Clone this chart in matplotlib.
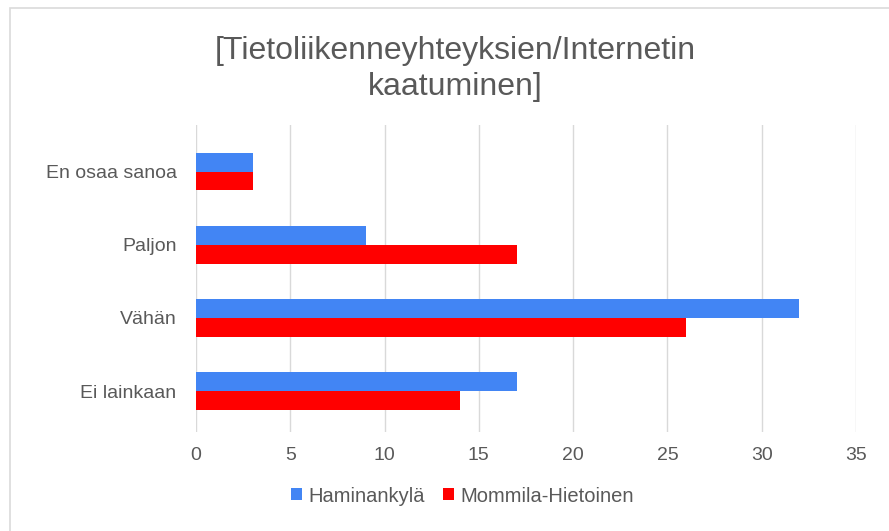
import matplotlib
matplotlib.use("Agg")
import matplotlib.pyplot as plt
from matplotlib.patches import Rectangle
import numpy as np

# Data (bottom to top, as drawn by barh)
categories = ["Ei lainkaan", "Vähän", "Paljon", "En osaa sanoa"]
haminankyla = [17, 32, 9, 3]
mommila = [14, 26, 17, 3]
series_names = ["Haminankylä", "Mommila-Hietoinen"]
x_ticks = [0, 5, 10, 15, 20, 25, 30, 35]

BLUE = "#4285F4"
RED = "#FF0000"
TEXT = "#595959"
GRID = "#D9D9D9"

plt.rcParams["font.family"] = ["Liberation Sans", "DejaVu Sans"]

fig = plt.figure(figsize=(8.89, 5.31), dpi=100)
fig.patch.set_facecolor("white")

# light frame of the screenshot
fig.patches.append(Rectangle((10 / 889, -0.05), 1.1, 1 - 8 / 531 + 0.05,
                             transform=fig.transFigure, fill=False,
                             edgecolor="#DADADA", linewidth=1.2))

ax = fig.add_axes([196 / 889, 1 - 432 / 531, 660 / 889, 307 / 531])

y = np.arange(len(categories))
h = 0.255
ax.barh(y + h / 2, haminankyla, height=h, color=BLUE, label=series_names[0], zorder=3)
ax.barh(y - h / 2, mommila, height=h, color=RED, label=series_names[1], zorder=3)

ax.set_xlim(0, 35)
ax.set_ylim(-0.56, 3.64)
ax.set_xticks(x_ticks)
ax.set_yticks(y)
ax.set_yticklabels(categories)
ax.xaxis.grid(True, color=GRID, linewidth=1, zorder=0)
ax.set_axisbelow(True)
for s in ax.spines.values():
    s.set_visible(False)
ax.tick_params(axis="both", length=0, colors=TEXT, labelsize=14)
ax.tick_params(axis="x", pad=11)
ax.tick_params(axis="y", pad=14)

fig.text(0.512, 1 - 69 / 531, "[Tietoliikenneyhteyksien/Internetin\nkaatuminen]",
         ha="center", va="center", fontsize=23, color=TEXT, linespacing=1.3)

leg = fig.legend(loc="center", bbox_to_anchor=(0.52, 1 - 496 / 531), ncol=2,
                 frameon=False, fontsize=14.5, handlelength=0.55, handleheight=0.55,
                 handletextpad=0.3, columnspacing=0.9)
for t in leg.get_texts():
    t.set_color(TEXT)

fig.savefig("out.png", dpi=100)
